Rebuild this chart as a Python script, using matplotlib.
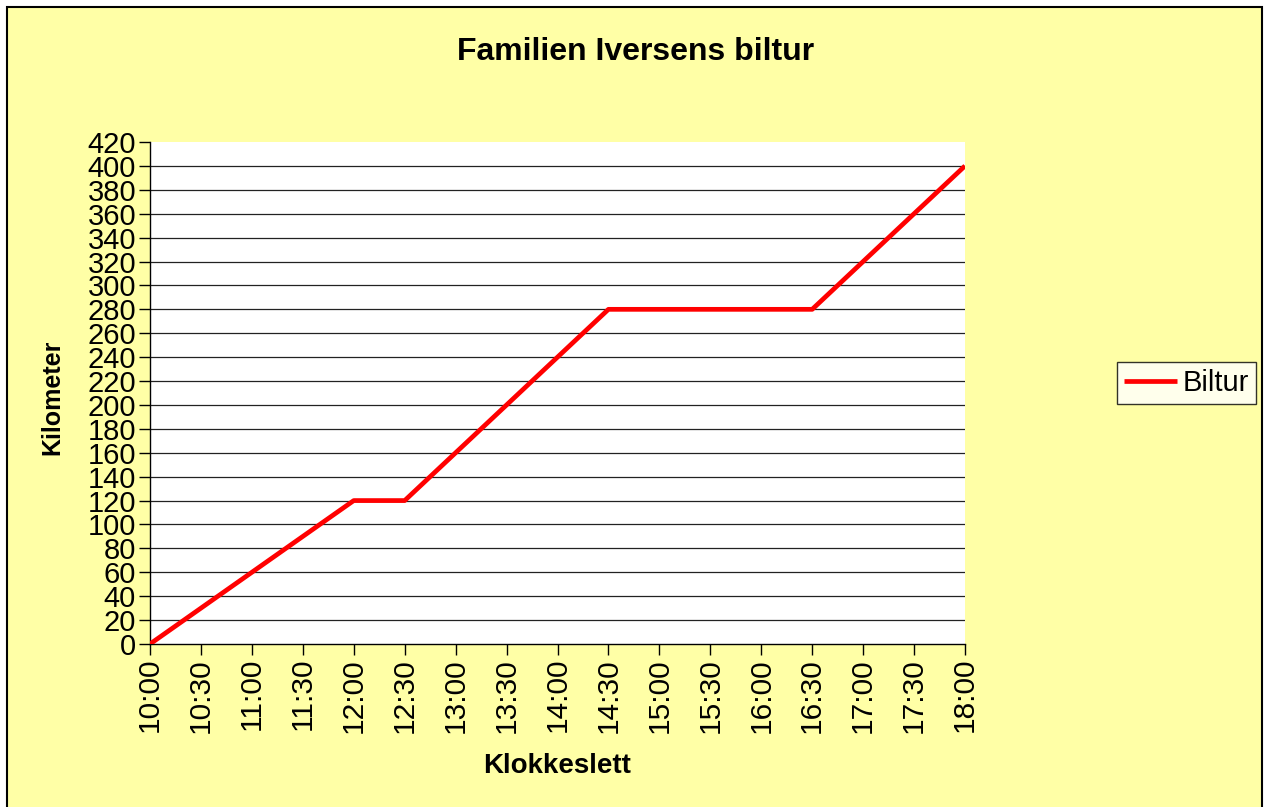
import matplotlib
matplotlib.use('Agg')
import matplotlib.pyplot as plt
from matplotlib.patches import Rectangle

plt.rcParams['font.family'] = ['Liberation Sans', 'DejaVu Sans']

# data
tider = ['10:00', '10:30', '11:00', '11:30', '12:00', '12:30', '13:00', '13:30', '14:00',
         '14:30', '15:00', '15:30', '16:00', '16:30', '17:00', '17:30', '18:00']
km = [0, 30, 60, 90, 120, 120, 160, 200, 240, 280, 280, 280, 280, 280, 320, 360, 400]
y_ticks = list(range(0, 421, 20))

fig = plt.figure(figsize=(12.66, 8.07), dpi=100)
W, H = 1266, 807

# gul bakgrunn med ramme
bg = Rectangle((7 / W, -0.01), (1262 - 7) / W, (H - 7) / H + 0.01, transform=fig.transFigure,
               facecolor='#FFFFA6', edgecolor='black', linewidth=1.5, zorder=-5)
fig.patches.append(bg)

ax = fig.add_axes([150 / W, (H - 644) / H, (965 - 150) / W, (644 - 142) / H])
ax.set_facecolor('white')
x = list(range(len(tider)))
ax.plot(x, km, color='#FF0000', linewidth=3.4, label='Biltur', solid_capstyle='butt', zorder=3)

ax.set_xlim(0, len(tider) - 1)
ax.set_ylim(0, 420)
ax.set_yticks(y_ticks)
ax.set_yticklabels([str(v) for v in y_ticks], fontsize=21)
ax.set_xticks(x)
ax.set_xticklabels(tider, rotation=90, fontsize=21.5)
for v in y_ticks[1:-1]:
    ax.axhline(v, color='#222222', linewidth=0.9, zorder=1)

for s in ['top', 'right']:
    ax.spines[s].set_visible(False)
for s in ['left', 'bottom']:
    ax.spines[s].set_color('black')
    ax.spines[s].set_linewidth(1.0)
ax.tick_params(axis='both', direction='out', length=8, width=1, pad=2)

xl = ax.set_xlabel('Klokkeslett', fontsize=20, fontweight='bold')
yl = ax.set_ylabel('Kilometer', fontsize=18, fontweight='bold')
xl.set_va('center')
yl.set_va('center')
yl.set_ha('center')
ax.xaxis.set_label_coords((557 - 150) / 815, (644 - 766) / 502)
ax.yaxis.set_label_coords((52 - 150) / 815, (644 - 397) / 502)

fig.text(636 / W, 1 - 52 / H, 'Familien Iversens biltur', ha='center', va='center',
         fontsize=23, fontweight='bold')

leg = ax.legend(loc='center left', bbox_to_anchor=(1117 / W, 1 - 383 / H),
                bbox_transform=fig.transFigure, fontsize=21, frameon=True,
                fancybox=False, borderpad=0.25, handlelength=1.8, handletextpad=0.2,
                borderaxespad=0)
leg.get_frame().set_edgecolor('black')
leg.get_frame().set_linewidth(1.0)

fig.savefig('out.png', dpi=100)
